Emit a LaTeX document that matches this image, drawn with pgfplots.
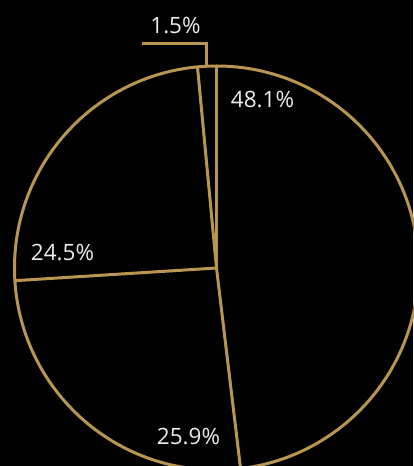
\documentclass[border=0pt]{standalone}
\usepackage{pgfplots}
\pgfplotsset{compat=1.18}
\usepackage{fontspec}
\setmainfont{Open Sans}
\definecolor{gold}{RGB}{184,150,82}
\definecolor{lbl}{RGB}{236,236,236}
% slice values (percent), clockwise from 12 o'clock
\def\vA{48.1}\def\vB{25.9}\def\vC{24.5}\def\vD{1.5}
\pgfmathsetmacro\aA{90}
\pgfmathsetmacro\aB{\aA-\vA*3.6}
\pgfmathsetmacro\aC{\aB-\vB*3.6}
\pgfmathsetmacro\aD{\aC-\vC*3.6}
\pgfmathsetmacro\mD{\aD-\vD*1.8}
\begin{document}
\begin{tikzpicture}
\fill[black] (0,0) rectangle (413pt,466pt);
\begin{axis}[
  scale only axis, width=413pt, height=466pt,
  xmin=0, xmax=413, ymin=0, ymax=466,
  hide axis, clip=false,
]
\draw[gold, line width=3pt] (axis cs:216.5,198) circle[radius=202];
\draw[gold, line width=3pt] (axis cs:216.5,198) -- ++(\aA:202pt);
\draw[gold, line width=3pt] (axis cs:216.5,198) -- ++(\aB:202pt);
\draw[gold, line width=3pt] (axis cs:216.5,198) -- ++(\aC:202pt);
\draw[gold, line width=3pt] (axis cs:216.5,198) -- ++(\aD:202pt);
\draw[gold, line width=3pt] (axis cs:216.5,198) ++(\mD:202pt) |- (axis cs:142,422);
\begin{scope}[every node/.style={text=lbl, font=\fontsize{22.5}{26}\selectfont, inner sep=0pt}]
\node at (axis cs:262.5,366) {\vA\%};
\node at (axis cs:188.5,29) {\vB\%};
\node at (axis cs:62.5,213) {\vC\%};
\node at (axis cs:175.5,440) {\vD\%};
\end{scope}
\end{axis}
\pgfresetboundingbox
\path[use as bounding box] (0,0) rectangle (413pt,466pt);
\end{tikzpicture}
\end{document}
